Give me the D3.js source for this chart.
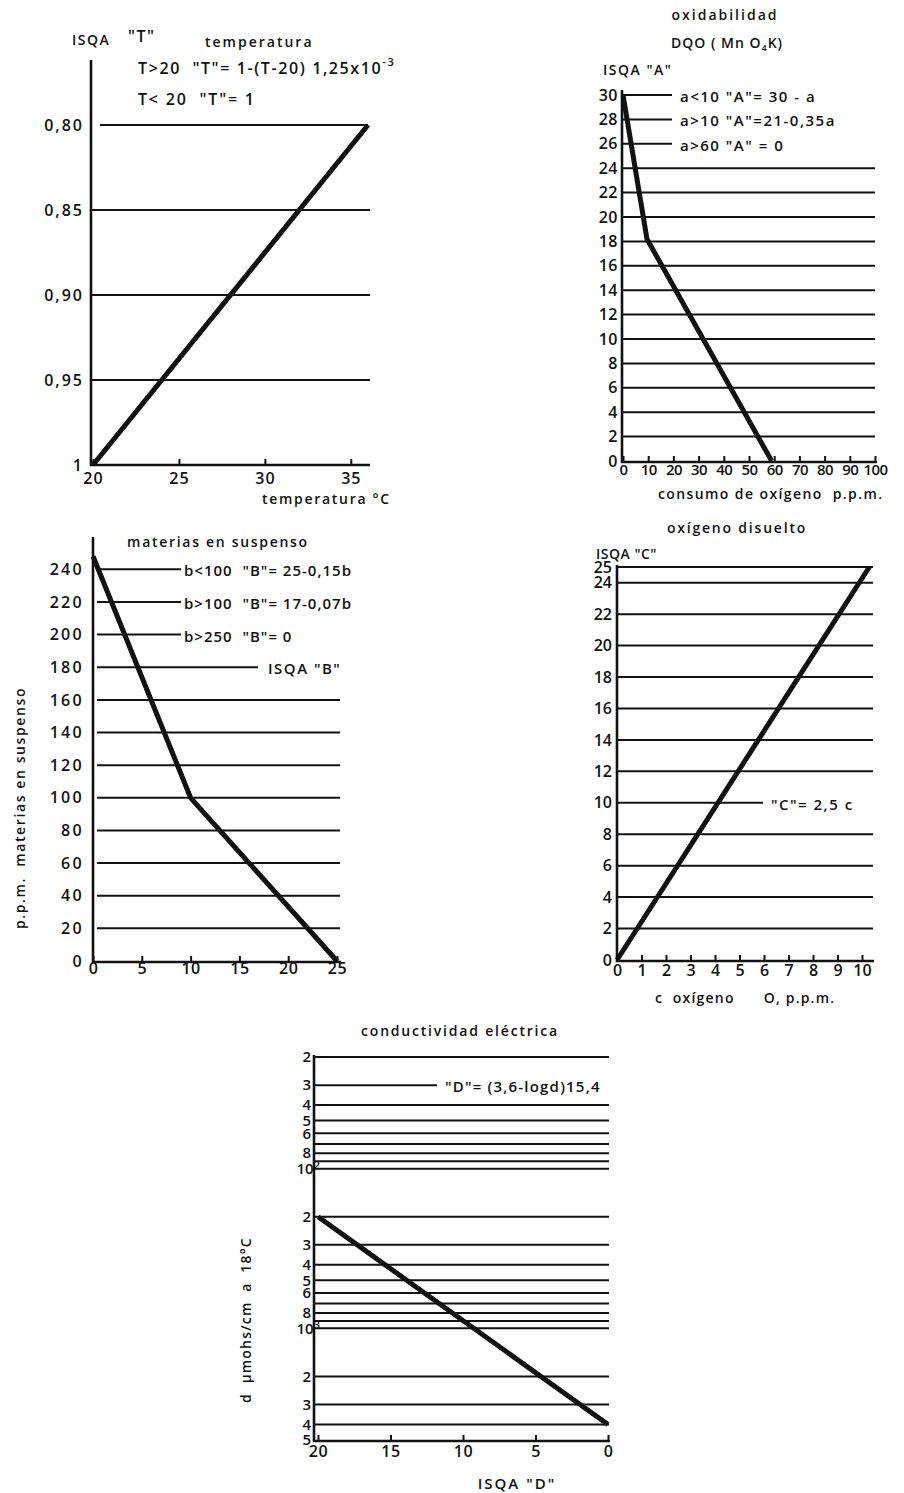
<!DOCTYPE html>
<html>
<head>
<meta charset="utf-8">
<script src="https://cdn.jsdelivr.net/npm/d3@7"></script>
<style>
  body { margin: 0; background: #fff; }
  text { font-family: "Open Sans", sans-serif; font-weight: 600; fill: #111; white-space: pre; }
</style>
</head>
<body>
<div id="chart"></div>
<script>
// ---- data ----
// temperatura
const tempX = [20, 25, 30, 35];
const tempY = [0.80, 0.85, 0.90, 0.95, 1];
const tempYLabels = ["0,80", "0,85", "0,90", "0,95", "1"];
const tempCurve = [[20, 1], [36, 0.80]];

// oxidabilidad
const oxiX = [0, 10, 20, 30, 40, 50, 60, 70, 80, 90, 100];
const oxiY = [0, 2, 4, 6, 8, 10, 12, 14, 16, 18, 20, 22, 24, 26, 28, 30];
const oxiShort = [26, 28, 30];
const oxiCurve = [[0, 30], [9.5, 18.2], [59, 0]];
const oxiNotes = ['a<10 "A"= 30 - a', 'a>10 "A"=21-0,35a', 'a>60 "A" = 0'];

// materias en suspenso
const suspX = [0, 5, 10, 15, 20, 25];
const suspY = [0, 20, 40, 60, 80, 100, 120, 140, 160, 180, 200, 220, 240];
const suspShort = [200, 220, 240];
const suspCurve = [[0, 248], [10, 100], [25, 0]];
const suspNotes = ['b<100  "B"= 25-0,15b', 'b>100  "B"= 17-0,07b', 'b>250  "B"= 0'];

// oxigeno disuelto
const oxyX = [0, 1, 2, 3, 4, 5, 6, 7, 8, 9, 10];
const oxyY = [0, 2, 4, 6, 8, 10, 12, 14, 16, 18, 20, 22, 24, 25];
const oxyCurve = [[0, 0], [10.3, 25]];

// conductividad electrica
const condX = [20, 15, 10, 5, 0];
const condGrid = [20, 30, 40, 50, 60, 70, 80, 90, 100, 200, 300, 400, 500, 600, 700, 800, 900, 1000, 2000, 3000, 4000];
const condTicks = [20, 30, 40, 50, 60, 80, 100, 200, 300, 400, 500, 600, 800, 1000, 2000, 3000, 4000, 5000];
const condLabels = ["2", "3", "4", "5", "6", "8", "10^2", "2", "3", "4", "5", "6", "8", "10^3", "2", "3", "4", "5"];
const condCurve = [[20, 200], [0, 4000]];

const ink = "#111";

const svg = d3.select("#chart")
  .append("svg")
  .attr("width", 904)
  .attr("height", 1493);

// axis frame: vertical line + bottom line
function frame(x0, yTop, y0, x1) {
  svg.append("path")
    .attr("d", `M${x0},${yTop}V${y0}H${x1}`)
    .attr("fill", "none")
    .attr("stroke", ink)
    .attr("stroke-width", 2.6);
}

// horizontal grid lines
function grid(y, values, xa, xbFn) {
  svg.append("g")
    .selectAll("line")
    .data(values)
    .join("line")
      .attr("x1", xa)
      .attr("x2", d => xbFn(d))
      .attr("y1", d => y(d))
      .attr("y2", d => y(d))
      .attr("stroke", ink)
      .attr("stroke-width", 2);
}

function xAxis(x, yPos, values, pad, size, ls) {
  const g = svg.append("g")
    .attr("transform", `translate(0,${yPos})`)
    .call(d3.axisBottom(x).tickValues(values).tickSizeInner(-6).tickSizeOuter(0).tickPadding(pad));
  g.select(".domain").remove();
  g.attr("font-size", size).attr("font-family", null);
  g.selectAll("text").attr("letter-spacing", ls);
  g.selectAll("line").attr("stroke", ink).attr("stroke-width", 2);
  return g;
}

function yAxis(y, xPos, values, labels, size, ls) {
  const g = svg.append("g")
    .attr("transform", `translate(${xPos},0)`)
    .call(d3.axisLeft(y).tickValues(values).tickSize(0).tickPadding(0)
      .tickFormat((d, i) => labels ? labels[i] : d));
  g.select(".domain").remove();
  g.attr("font-size", size).attr("font-family", null);
  g.selectAll("text").attr("letter-spacing", ls);
  return g;
}

function curve(x, y, pts) {
  svg.append("path")
    .datum(pts)
    .attr("d", d3.line().x(d => x(d[0])).y(d => y(d[1])))
    .attr("fill", "none")
    .attr("stroke", ink)
    .attr("stroke-width", 5)
    .attr("stroke-linejoin", "round");
}

function label(x, y, str, size, ls, anchor) {
  return svg.append("text")
    .attr("x", x).attr("y", y)
    .attr("font-size", size)
    .attr("letter-spacing", ls)
    .attr("text-anchor", anchor || "start")
    .attr("dominant-baseline", "central")
    .text(str);
}

// ---------- temperatura ----------
{
  const x = d3.scaleLinear().domain([20, 36]).range([93, 368]);
  const y = d3.scaleLinear().domain([1, 0.80]).range([465, 125]);
  grid(y, tempY.slice(1, 4), 92, () => 370);
  grid(y, [0.80], 100, () => 368);
  frame(91, 60, 465, 370);
  xAxis(x, 465, tempX, 8, 16, 1);
  yAxis(y, 84, tempY, tempYLabels, 16, 2);
  curve(x, y, tempCurve);

  label(72, 39, "ISQA", 14, 1.5);
  label(128, 36, '"T"', 16, 1.5);
  label(205, 41, "temperatura", 14, 2);
  const f = label(138, 68, 'T>20  "T"= 1-(T-20) 1,25x10', 16, 1.6);
  f.append("tspan").attr("dy", -7).attr("font-size", 11).text("-3");
  label(138, 99, 'T< 20  "T"= 1', 16, 1.8);
  label(262, 498, "temperatura °C", 14, 1.7);
}

// ---------- oxidabilidad ----------
{
  const x = d3.scaleLinear().domain([0, 100]).range([623, 875]);
  const y = d3.scaleLinear().domain([0, 30]).range([461, 95]);
  grid(y, oxiY.filter(d => d > 0), 623, d => oxiShort.includes(d) ? 672 : 875);
  frame(622, 90, 462, 877);
  xAxis(x, 462, oxiX, 2, 15, -0.6);
  yAxis(y, 618, oxiY, null, 16, 0.5);
  curve(x, y, oxiCurve);

  oxiShort.slice().reverse().forEach((v, i) => label(680, y(v) + 1, oxiNotes[i], 15, 1.5));
  label(725, 14, "oxidabilidad", 14, 2, "middle");
  const t = label(671, 42, "DQO ( Mn O", 14, 1);
  t.append("tspan").attr("dy", 5).attr("font-size", 9).text("4");
  t.append("tspan").attr("dy", -5).text("K)");
  label(603, 69, 'ISQA "A"', 14, 1.5);
  label(658, 493, "consumo de oxígeno  p.p.m.", 14, 1.4);
}

// ---------- materias en suspenso ----------
{
  const x = d3.scaleLinear().domain([0, 25]).range([93, 337]);
  const y = d3.scaleLinear().domain([0, 250]).range([961, 553]);
  grid(y, suspY.filter(d => d > 0), 97,
    d => suspShort.includes(d) ? 181 : d === 180 ? 258 : 340);
  frame(93, 537, 962, 341);
  xAxis(x, 962, suspX, 1, 16, 0.5);
  yAxis(y, 84, suspY, null, 16, 2.3);
  curve(x, y, suspCurve);

  suspShort.slice().reverse().forEach((v, i) => label(184, y(v) + 1, suspNotes[i], 15, 1));
  label(268, y(180) + 1, 'ISQA "B"', 15, 1.5);
  label(218, 541, "materias en suspenso", 14, 1.7, "middle");
  svg.append("text")
    .attr("transform", "translate(19,808) rotate(-90)")
    .attr("text-anchor", "middle")
    .attr("dominant-baseline", "central")
    .attr("font-size", 14)
    .attr("letter-spacing", 1.6)
    .text("p.p.m.  materias en suspenso");
}

// ---------- oxigeno disuelto ----------
{
  const x = d3.scaleLinear().domain([0, 10]).range([617, 862]);
  const y = d3.scaleLinear().domain([0, 25]).range([960, 567]);
  grid(y, oxyY.filter(d => d > 0), 617, d => d === 10 ? 763 : 873);
  frame(617, 565, 961, 874);
  xAxis(x, 961, oxyX, 4, 16, 0);
  yAxis(y, 612, oxyY, null, 16, 0);
  curve(x, y, oxyCurve);

  label(771, y(10) + 1, '"C"= 2,5 c', 15, 1.5);
  label(737, 527, "oxígeno disuelto", 14, 1.8, "middle");
  label(596, 553, 'ISQA "C"', 14, 0.5);
  label(655, 997, "c  oxígeno      O, p.p.m.", 14, 1.2);
}

// ---------- conductividad electrica ----------
{
  const x = d3.scaleLinear().domain([20, 0]).range([318, 608]);
  const y = d3.scaleLog().domain([20, 5000]).range([1057, 1440]);
  grid(y, condGrid, 314, d => d === 30 ? 437 : 609);
  frame(314, 1055, 1441, 610);
  xAxis(x, 1441, condX, 5, 16, 0.5);
  const ya = yAxis(y, 311, condTicks, condLabels.map(s => s.split("^")[0]), 15, 0);
  ya.selectAll("text").each(function (d, i) {
    const parts = condLabels[i].split("^");
    if (parts.length > 1) {
      d3.select(this).append("tspan").attr("dy", -5).attr("font-size", 11).text(parts[1]);
      d3.select(this).attr("dx", 9);
    }
  });
  curve(x, y, condCurve);

  label(445, y(30) + 1, '"D"= (3,6-logd)15,4', 15, 1.2);
  label(460, 1030, "conductividad eléctrica", 14, 1.8, "middle");
  label(517, 1483, 'ISQA "D"', 15, 2, "middle");
  svg.append("text")
    .attr("transform", "translate(245,1320) rotate(-90)")
    .attr("text-anchor", "middle")
    .attr("dominant-baseline", "central")
    .attr("font-size", 14)
    .attr("letter-spacing", 1.2)
    .text("d  µmohs/cm  a  18°C");
}
</script>
</body>
</html>
